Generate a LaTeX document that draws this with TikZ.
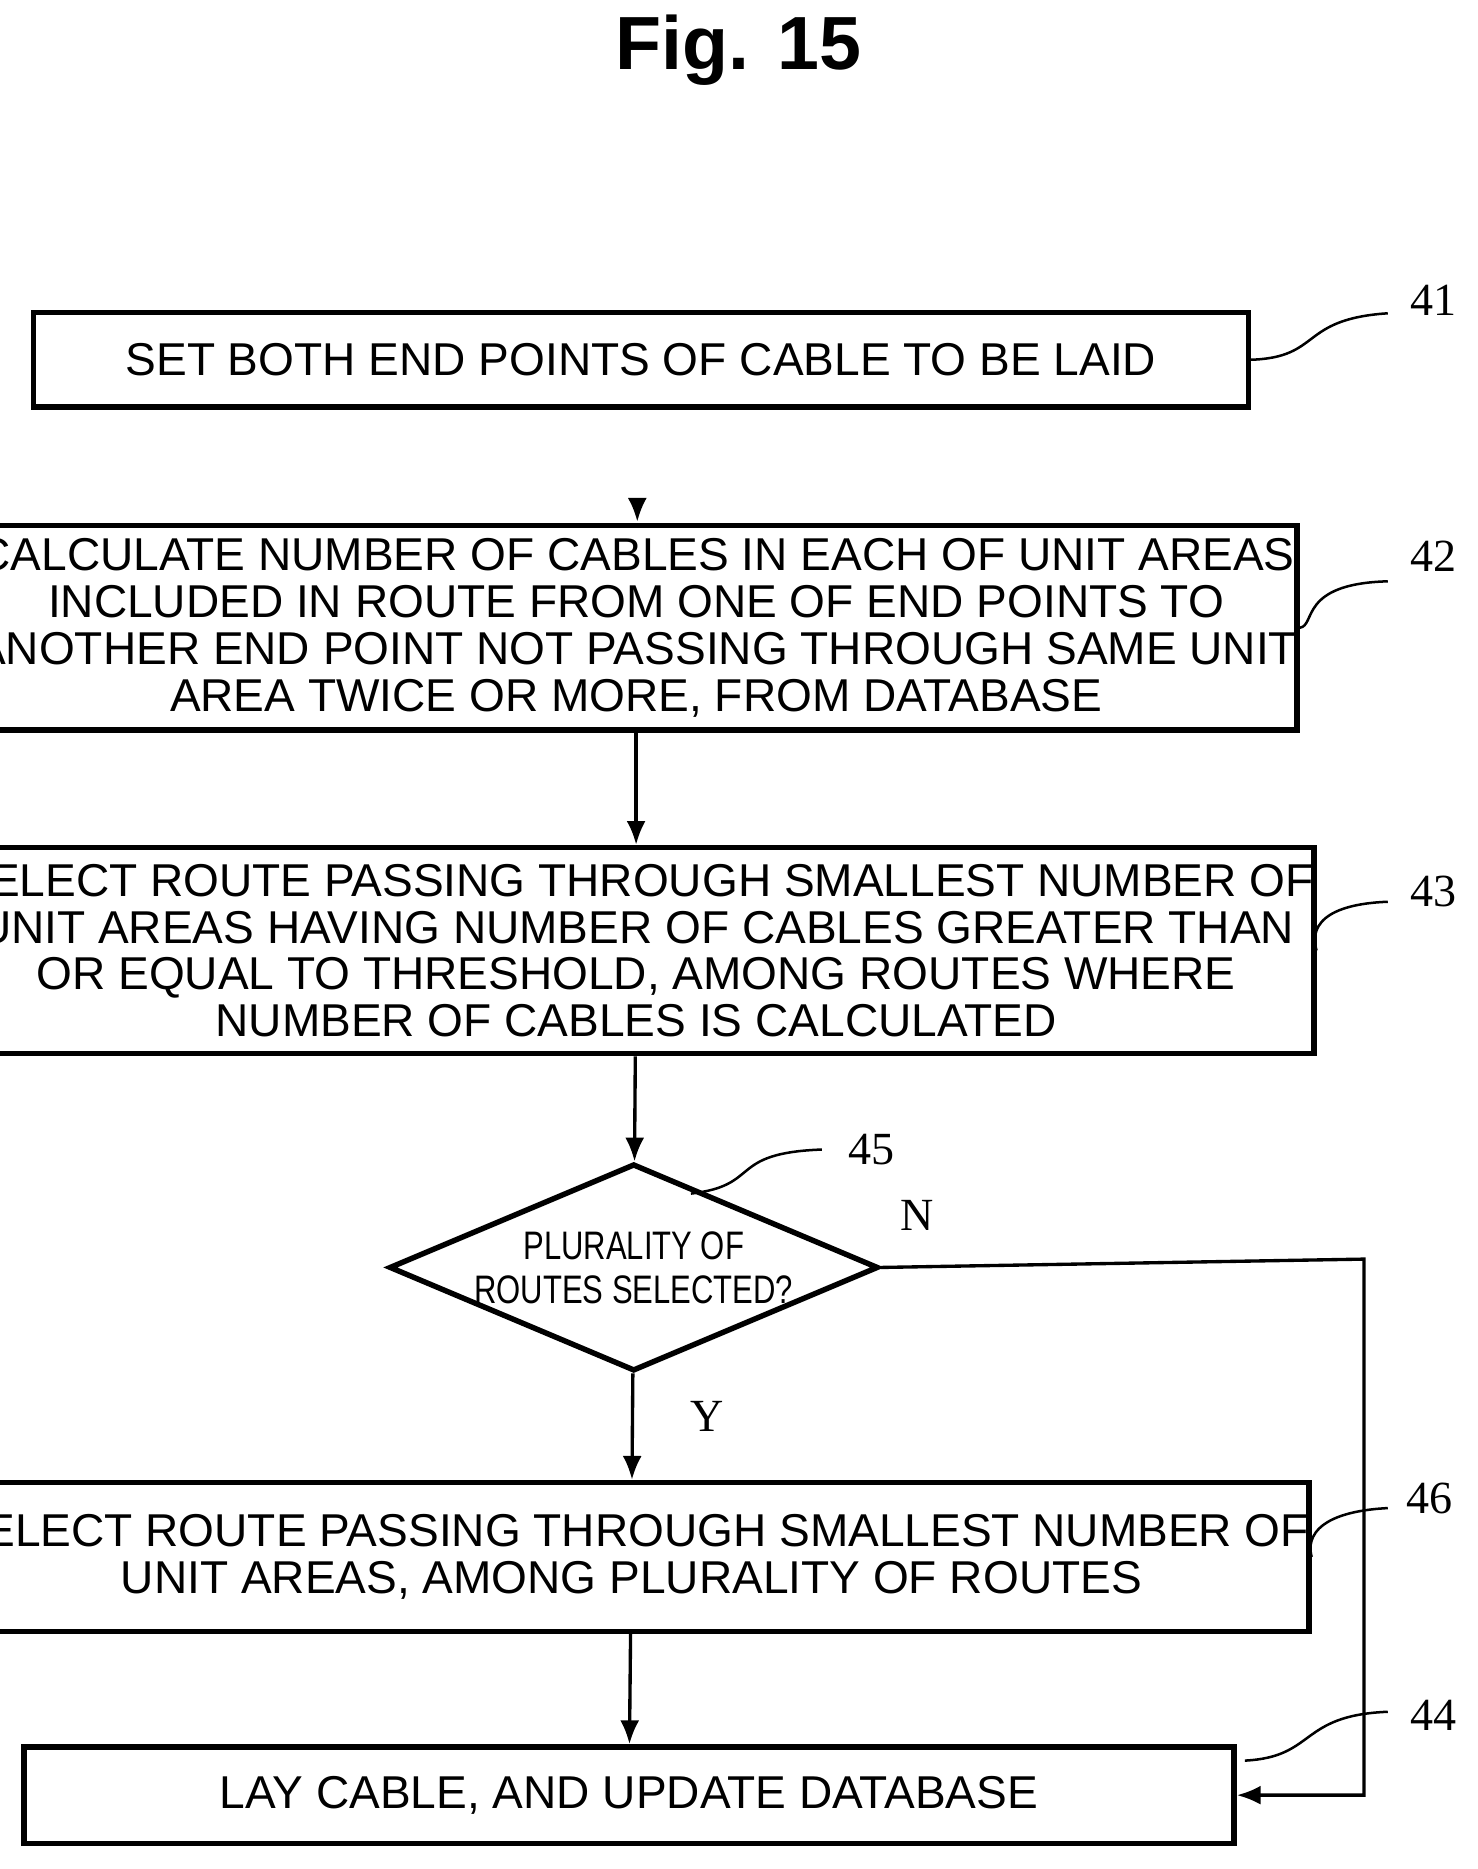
\documentclass[tikz,border=0pt]{standalone}
\usepackage{fontspec}
\setmainfont{Liberation Sans}
\newfontfamily\numfont{Liberation Serif}
\newfontfamily\narrowfont[FakeStretch=0.78]{Liberation Sans}
\usetikzlibrary{shapes.geometric,arrows.meta}

\begin{document}
\begin{tikzpicture}[x=0.1mm,y=-0.1mm,thick,
  stepbox/.style={draw,line width=1.3pt,align=center,inner sep=0pt,
    font=\fontsize{11}{11.2}\selectfont},
  flow/.style={-{Latex[length=2mm,width=1.6mm]}},
  tag/.style={font=\numfont\fontsize{11}{13}\selectfont},
  lead/.style={semithick}]
  \useasboundingbox (0,0) rectangle (1240,1569);

  \node[font=\bfseries\fontsize{18}{21}\selectfont] (title) at (620,42) {Fig. 15};

  \node[stepbox,minimum width=102mm,minimum height=7.9mm] (s41) at (538,302)
    {SET BOTH END POINTS OF CABLE TO BE LAID};
  \node[stepbox,minimum width=102mm,minimum height=17.2mm] (s42) at (534,527)
    {CALCULATE NUMBER OF CABLES IN EACH OF UNIT AREAS\\
     INCLUDED IN ROUTE FROM ONE OF END POINTS TO\\
     ANOTHER END POINT NOT PASSING THROUGH SAME UNIT\\
     AREA TWICE OR MORE, FROM DATABASE};
  \node[stepbox,minimum width=102mm,minimum height=17.3mm] (s43) at (534,798)
    {SELECT ROUTE PASSING THROUGH SMALLEST NUMBER OF\\
     UNIT AREAS HAVING NUMBER OF CABLES GREATER THAN\\
     OR EQUAL TO THRESHOLD, AMONG ROUTES WHERE\\
     NUMBER OF CABLES IS CALCULATED};
  \node[draw,line width=1.3pt,diamond,aspect=2.36,inner sep=0pt,
    minimum width=37.3mm,minimum height=15.8mm,align=center,
    font=\narrowfont\fontsize{9.5}{10.5}\selectfont] (s45) at (532,1064)
    {PLURALITY OF\\ROUTES SELECTED?};
  \node[stepbox,minimum width=102mm,minimum height=12.5mm] (s46) at (530,1307)
    {SELECT ROUTE PASSING THROUGH SMALLEST NUMBER OF\\
     UNIT AREAS, AMONG PLURALITY OF ROUTES};
  \node[stepbox,minimum width=101.6mm,minimum height=8.1mm] (s44) at (528,1507)
    {LAY CABLE, AND UPDATE DATABASE};

  % arrows between steps
  \draw[flow] (535,425) -- (535,438);
  \draw[flow] (s42) -- (s43);
  \draw[flow] (s43) -- (s45);
  \draw[flow] (s45) -- node[pos=0.4,right=10pt,tag] (y) {Y} (s46);
  \draw[flow] (s46) -- (s44);
  \draw[flow] (s45.east) -- (1145,1057) |- (s44.east);
  \node[tag] (n) at (770,1020) {N};

  % reference numerals
  \node[tag] (t41) at (1203,252) {41};
  \node[tag] (t42) at (1203,467) {42};
  \node[tag] (t43) at (1203,748) {43};
  \node[tag] (t45) at (732,965) {45};
  \node[tag] (t46) at (1200,1258) {46};
  \node[tag] (t44) at (1203,1440) {44};
  \draw[lead] (s41.east) .. controls (1110,300) and (1090,268) .. (1165,263);
  \draw[lead] (s42.east) .. controls (1105,525) and (1090,490) .. (1165,488);
  \draw[lead] (s43.east) .. controls (1105,795) and (1090,760) .. (1165,757);
  \draw[lead] (580,1002) .. controls (640,995) and (610,968) .. (690,965);
  \draw[lead] (s46.east) .. controls (1100,1303) and (1090,1270) .. (1165,1266);
  \draw[lead] (1045,1478) .. controls (1105,1475) and (1090,1440) .. (1165,1437);
\end{tikzpicture}
\end{document}
